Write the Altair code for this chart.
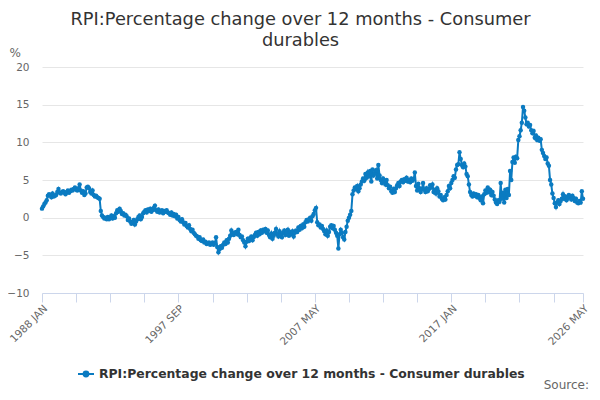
import altair as alt
import pandas as pd

SERIES = "RPI:Percentage change over 12 months - Consumer durables"
MONTHS = ["JAN", "FEB", "MAR", "APR", "MAY", "JUN", "JUL", "AUG", "SEP", "OCT", "NOV", "DEC"]

v1988 = [1.2, 1.5, 1.8, 2.0, 2.3, 2.9, 3.1, 3.0, 2.7, 3.2, 2.8, 2.9]
v1989 = [3.0, 3.4, 3.8, 3.3, 3.2, 3.4, 3.5, 3.3, 3.1, 3.4, 3.6, 3.3]
v1990 = [3.5, 3.7, 3.6, 3.8, 4.0, 3.7, 3.6, 3.9, 4.4, 3.6, 3.3, 3.5]
v1991 = [3.0, 3.2, 4.0, 4.1, 3.9, 3.4, 3.2, 3.6, 3.0, 2.8, 2.9, 2.7]
v1992 = [2.6, 2.5, 0.9, 0.3, 0.1, -0.1, 0.0, -0.2, 0.1, -0.2, 0.0, 0.3]
v1993 = [-0.1, 0.2, 0.0, 0.6, 1.0, 0.8, 1.2, 0.9, 0.5, 0.6, 0.3, 0.4]
v1994 = [0.2, -0.3, -0.1, -0.5, -0.8, -0.6, -0.3, -0.9, -0.5, -0.2, 0.1, 0.3]
v1995 = [-0.2, 0.1, 0.6, 0.8, 1.0, 0.7, 1.1, 0.9, 1.2, 0.8, 1.0, 1.3]
v1996 = [1.6, 1.0, 0.8, 1.1, 0.7, 0.9, 1.0, 0.6, 0.9, 0.8, 1.0, 0.7]
v1997 = [0.6, 0.4, 0.7, 0.3, 0.5, 0.2, 0.4, -0.1, 0.1, -0.3, -0.5, -0.2]
v1998 = [-0.6, -0.9, -0.7, -1.1, -1.3, -1.0, -1.5, -1.8, -1.6, -2.0, -2.2, -2.4]
v1999 = [-2.5, -2.8, -2.6, -3.0, -3.1, -2.9, -3.3, -3.2, -3.5, -3.4, -3.3, -3.6]
v2000 = [-3.5, -3.3, -3.6, -3.4, -2.6, -3.9, -4.6, -4.2, -3.8, -4.0, -3.6, -3.3]
v2001 = [-3.5, -3.0, -3.3, -2.8, -2.4, -1.7, -2.1, -2.3, -2.0, -1.9, -2.2, -1.6]
v2002 = [-2.3, -2.6, -2.5, -3.0, -3.3, -3.8, -3.2, -2.8, -3.1, -2.7, -2.5, -3.0]
v2003 = [-2.6, -2.3, -2.0, -2.4, -1.9, -2.2, -1.7, -2.0, -1.6, -1.8, -1.5, -2.0]
v2004 = [-1.7, -2.3, -2.6, -2.1, -2.8, -2.4, -2.0, -1.5, -2.2, -2.5, -1.8, -2.3]
v2005 = [-2.6, -2.0, -1.7, -2.3, -2.0, -1.6, -2.4, -1.9, -2.2, -1.8, -2.5, -2.0]
v2006 = [-1.7, -1.9, -1.3, -1.6, -1.1, -1.4, -0.9, -1.2, -0.6, -0.3, -0.5, -0.2]
v2007 = [0.0, -0.4, 0.2, 0.5, 1.0, 1.3, -0.6, -1.0, -0.9, -1.3, -1.1, -1.5]
v2008 = [-1.8, -2.2, -1.7, -2.4, -1.9, -1.2, -1.0, -1.4, -1.1, -1.6, -2.0, -2.4]
v2009 = [-4.1, -2.2, -1.6, -2.0, -2.6, -2.9, -1.9, -1.2, -0.4, 0.0, 0.4, 0.9]
v2010 = [3.1, 3.6, 4.0, 3.8, 4.2, 3.5, 3.9, 4.4, 4.8, 5.2, 4.9, 5.8]
v2011 = [5.3, 6.0, 5.5, 6.2, 4.8, 6.4, 5.6, 5.9, 6.3, 5.2, 7.0, 5.6]
v2012 = [5.0, 4.6, 5.2, 4.8, 4.4, 5.0, 4.3, 3.9, 4.1, 3.5, 3.3, 3.8]
v2013 = [3.4, 3.9, 4.3, 4.6, 4.2, 4.8, 5.0, 4.7, 5.1, 4.9, 5.3, 4.8]
v2014 = [5.0, 4.7, 5.2, 4.9, 5.1, 6.0, 4.2, 3.6, 4.5, 3.9, 3.4, 3.8]
v2015 = [4.6, 3.7, 3.4, 3.9, 3.5, 3.8, 4.3, 4.0, 4.4, 3.4, 3.7, 3.2]
v2016 = [3.9, 3.5, 2.8, 3.0, 2.5, 2.3, 2.7, 2.4, 3.0, 3.5, 4.2, 3.9]
v2017 = [4.6, 5.0, 5.5, 5.3, 6.4, 7.0, 7.1, 8.7, 7.8, 7.0, 6.7, 7.2]
v2018 = [6.8, 5.8, 5.5, 4.4, 3.4, 3.0, 2.8, 3.2, 2.9, 3.1, 2.7, 3.0]
v2019 = [2.6, 2.3, 2.8, 1.9, 3.1, 3.6, 3.3, 4.0, 3.4, 3.7, 3.0, 3.4]
v2020 = [2.9, 2.4, 2.0, 1.8, 2.3, 2.1, 4.6, 2.5, 3.3, 2.0, 3.7, 2.6]
v2021 = [3.8, 3.0, 6.2, 5.0, 7.4, 8.0, 7.3, 8.1, 7.9, 10.3, 10.8, 11.6]
v2022 = [12.6, 14.7, 14.2, 13.3, 12.4, 12.6, 12.1, 12.3, 11.6, 11.2, 11.5, 10.6]
v2023 = [10.9, 10.3, 10.6, 10.2, 10.4, 9.0, 8.6, 8.2, 7.8, 8.0, 7.2, 6.9]
v2024 = [5.0, 4.4, 3.2, 2.6, 1.9, 1.4, 2.0, 2.3, 1.8, 2.2, 2.5, 3.1]
v2025 = [2.5, 2.8, 2.3, 2.6, 3.0, 2.7, 2.4, 2.9, 2.6, 2.2, 2.5, 2.0]
v2026 = [1.9, 2.2, 2.0, 3.5, 2.5]

values = (v1988 + v1989 + v1990 + v1991 + v1992 + v1993 + v1994 + v1995 + v1996
          + v1997 + v1998 + v1999 + v2000 + v2001 + v2002 + v2003 + v2004 + v2005
          + v2006 + v2007 + v2008 + v2009 + v2010 + v2011 + v2012 + v2013 + v2014
          + v2015 + v2016 + v2017 + v2018 + v2019 + v2020 + v2021 + v2022 + v2023
          + v2024 + v2025 + v2026)

periods = [f"{1988 + i // 12} {MONTHS[i % 12]}" for i in range(len(values))]
df = pd.DataFrame({"idx": list(range(len(values))), "period": periods,
                   "value": values, "series": [SERIES] * len(values)})

tick_positions = list(range(0, 436, 29)) + [460]
label_positions = [0, 116, 232, 348, 460]
label_expr = " : ".join(
    f"datum.value == {p} ? '{periods[p]}'" for p in label_positions) + " : ''"

BLUE = "#0b7bc1"
FONT = "DejaVu Sans"

line = alt.Chart(df).mark_line(
    strokeWidth=2,
    point=alt.OverlayMarkDef(size=20, filled=True, color=BLUE),
).encode(
    x=alt.X("idx:Q",
            scale=alt.Scale(domain=[0, 460], nice=False, zero=False),
            axis=alt.Axis(values=tick_positions, labelExpr=label_expr, grid=False,
                          labelAngle=-45, labelAlign="right", labelBaseline="top",
                          labelFontSize=10.5, labelColor="#666666", labelFont=FONT,
                          tickColor="#ccd6eb", domainColor="#ccd6eb", tickSize=9,
                          labelPadding=1, labelOverlap=False, title=None,
                          labelFlush=False)),
    y=alt.Y("value:Q",
            scale=alt.Scale(domain=[-10, 20], nice=False),
            axis=alt.Axis(values=[-10, -5, 0, 5, 10, 15, 20], grid=True,
                          gridColor="#e6e6e6", domain=False, ticks=False,
                          labelFontSize=10.5, labelColor="#666666", labelFont=FONT,
                          labelPadding=13, title="%", titleAngle=0,
                          titleAlign="left", titleBaseline="alphabetic",
                          titleX=-33, titleY=-11, titleFontSize=12,
                          titleFontWeight="normal", titleColor="#666666",
                          titleFont=FONT)),
    color=alt.Color("series:N",
                    scale=alt.Scale(domain=[SERIES], range=[BLUE]),
                    legend=alt.Legend(
                        orient="none", legendX=35, legendY=298, title=None,
                        direction="horizontal",
                        symbolType="M-1,0L1,0M-0.3,0A0.3,0.3 0 1,0 0.3,0A0.3,0.3 0 1,0 -0.3,0",
                        symbolSize=256, symbolStrokeWidth=2,
                        symbolStrokeColor=BLUE, symbolFillColor=BLUE,
                        labelFont=FONT, labelFontSize=12.4, labelFontWeight="bold",
                        labelColor="#333333", labelLimit=600)),
)

source = alt.Chart(pd.DataFrame({"t": ["Source:"]})).mark_text(
    align="right", baseline="middle", fontSize=12, font=FONT, color="#666666"
).encode(text="t:N", x=alt.value(547), y=alt.value(318))

chart = alt.layer(line, source).properties(
    width=541, height=226,
    autosize=alt.AutoSizeParams(type="none"),
    padding={"left": 34, "top": 59, "right": 9, "bottom": 99},
    title=alt.TitleParams(
        text=["RPI:Percentage change over 12 months - Consumer", "durables"],
        fontSize=17.8, font=FONT, fontWeight="normal", color="#333333",
        anchor="middle", dx=-12, dy=24, offset=20, lineHeight=21),
).configure_view(stroke=None)

chart.save("out.html", embed_options={"renderer": "svg", "actions": False})
